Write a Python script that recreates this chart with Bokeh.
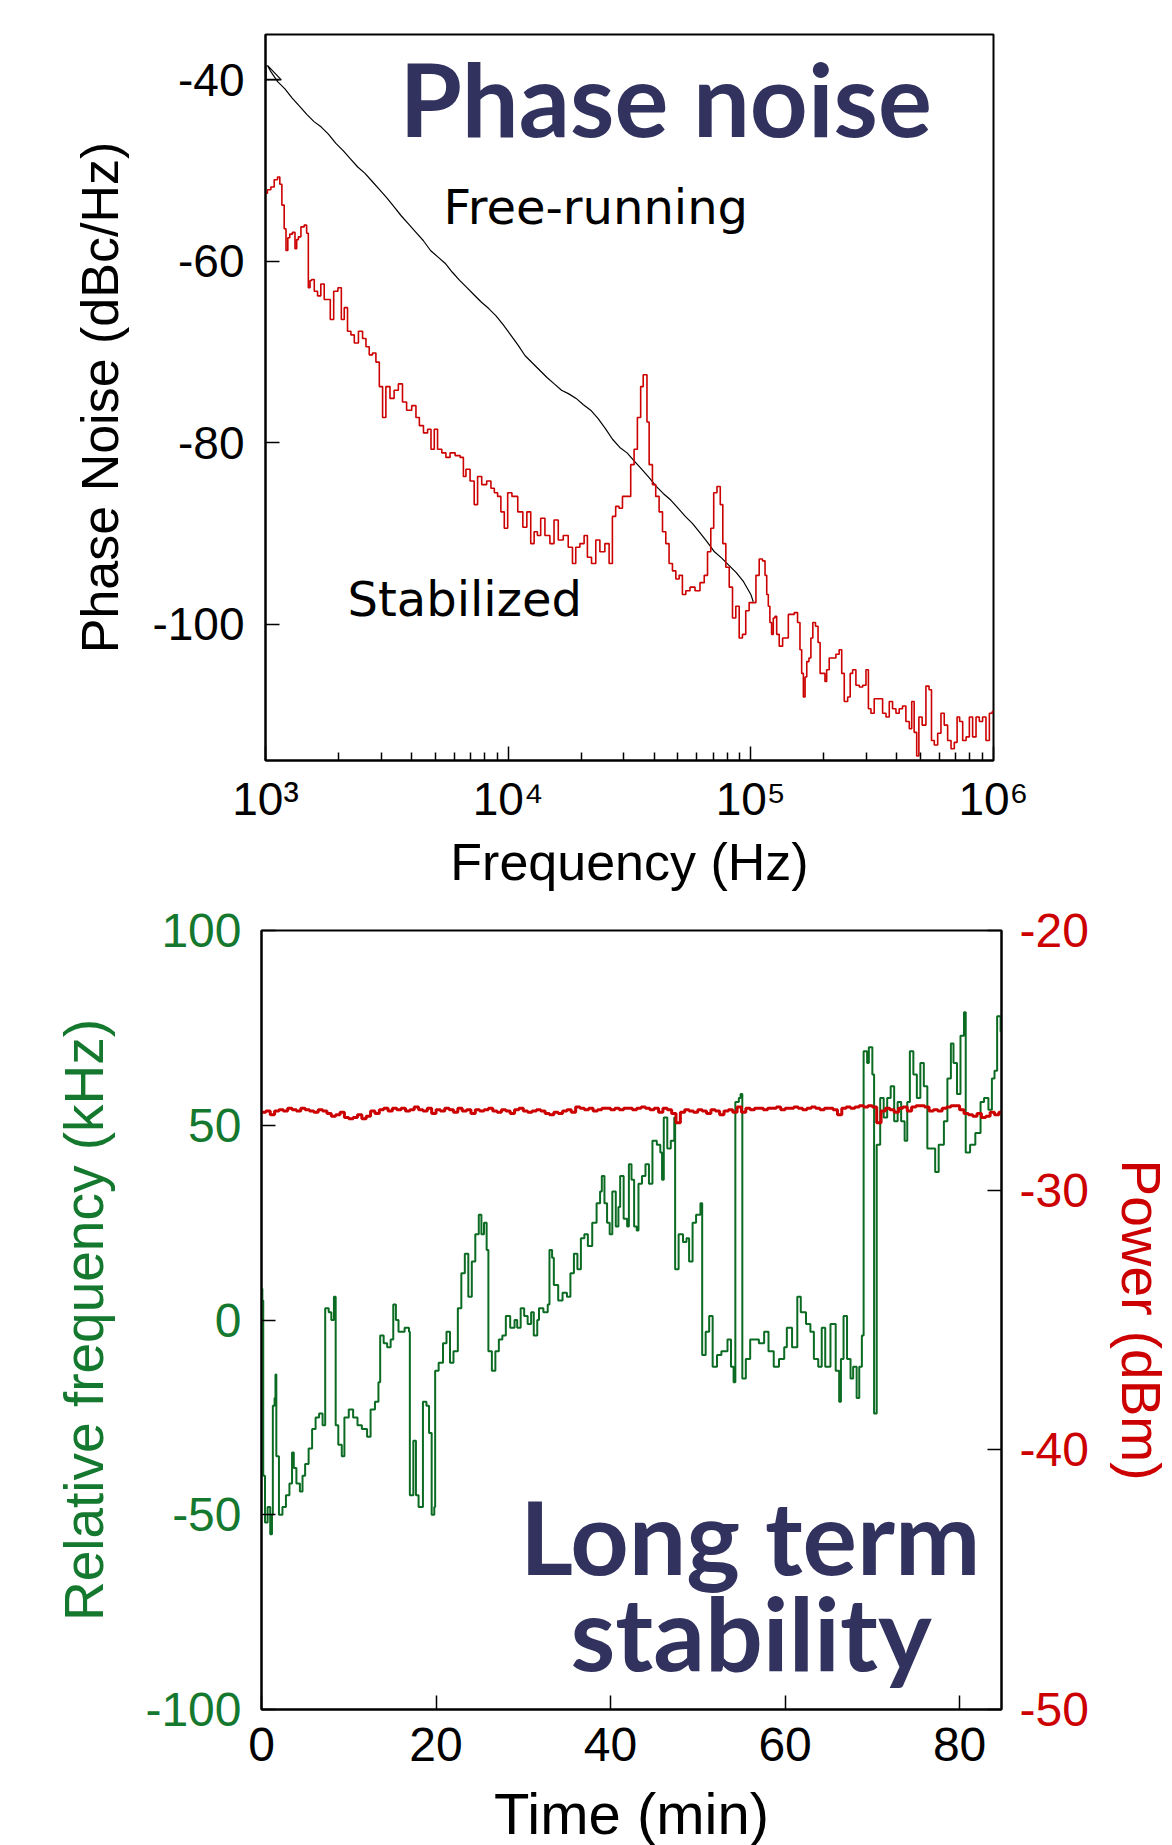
from bokeh.plotting import figure
from bokeh.models import Range1d, LinearAxis, FixedTicker, CustomJSTickFormatter, PrintfTickFormatter, Label
from bokeh.layouts import column
from bokeh.embed import file_html
from bokeh.resources import INLINE

# ---------------- Phase noise data (log10 of frequency in Hz, dBc/Hz) ----------------
free_logf = [3.002, 3.002, 3.065, 3.008, 3.02, 3.05, 3.08, 3.11, 3.14, 3.17, 3.20, 3.23, 3.26,
             3.29, 3.32, 3.35, 3.38, 3.41, 3.44, 3.47, 3.50, 3.53, 3.56, 3.59, 3.62, 3.65,
             3.68, 3.71, 3.74, 3.77, 3.80, 3.83, 3.86, 3.89, 3.92, 3.95, 3.98, 4.01, 4.04,
             4.07, 4.10, 4.13, 4.16, 4.19, 4.22, 4.25, 4.28, 4.31, 4.34, 4.37, 4.40, 4.43,
             4.46, 4.49, 4.52, 4.55, 4.58, 4.61, 4.64, 4.67, 4.70, 4.73, 4.76, 4.79, 4.82,
             4.85, 4.88, 4.91, 4.94, 4.97, 5.00, 5.01]
free_db = [-38.4, -40.0, -40.0, -38.4, -39.0, -40.2, -41.0, -42.0, -42.9, -43.8, -44.6, -45.2, -46.0,
           -47.0, -47.8, -48.7, -49.6, -50.3, -51.2, -52.1, -53.0, -54.0, -55.0, -55.9, -56.8, -57.7,
           -58.8, -59.5, -60.2, -61.2, -62.1, -62.9, -63.7, -64.5, -65.2, -66.0, -67.0, -68.1, -69.2,
           -70.4, -71.2, -72.0, -72.8, -73.5, -74.2, -74.6, -75.1, -75.8, -76.4, -77.3, -78.4, -79.6,
           -80.5, -81.1, -82.0, -82.9, -83.8, -84.8, -85.6, -86.3, -87.2, -88.1, -88.9, -89.9, -90.9,
           -92.0, -92.7, -93.5, -94.3, -95.3, -96.7, -97.5]

stab_logf = [3.001, 3.015, 3.029, 3.043, 3.056, 3.062, 3.073, 3.081, 3.088, 3.096, 3.104, 3.118,
             3.125, 3.132, 3.139, 3.153, 3.166, 3.173, 3.180, 3.187, 3.194, 3.208, 3.221, 3.235,
             3.249, 3.262, 3.272, 3.290, 3.307, 3.318, 3.331, 3.345, 3.359, 3.373, 3.393, 3.407,
             3.421, 3.434, 3.448, 3.462, 3.476, 3.489, 3.503, 3.523, 3.537, 3.558, 3.571, 3.592,
             3.613, 3.627, 3.641, 3.661, 3.675, 3.689, 3.702, 3.716, 3.737, 3.750, 3.771, 3.792,
             3.812, 3.819, 3.833, 3.853, 3.867, 3.881, 3.901, 3.922, 3.936, 3.950, 3.963, 3.977,
             3.991, 4.005, 4.026, 4.053, 4.068, 4.086, 4.100, 4.114, 4.127, 4.141, 4.162, 4.182,
             4.196, 4.217, 4.237, 4.258, 4.272, 4.285, 4.306, 4.320, 4.333, 4.354, 4.368, 4.388,
             4.409, 4.423, 4.436, 4.450, 4.464, 4.478, 4.498, 4.512, 4.526, 4.539, 4.553, 4.560,
             4.570, 4.574, 4.588, 4.601, 4.615, 4.629, 4.643, 4.656, 4.670, 4.684, 4.698, 4.711,
             4.725, 4.739, 4.760, 4.780, 4.801, 4.815, 4.828, 4.842, 4.852, 4.869, 4.879, 4.890,
             4.904, 4.918, 4.931, 4.945, 4.959, 4.972, 4.986, 5.000, 5.014, 5.028, 5.041, 5.055,
             5.062, 5.069, 5.075, 5.082, 5.089, 5.096, 5.103, 5.110, 5.124, 5.138, 5.151, 5.158,
             5.172, 5.186, 5.199, 5.206, 5.213, 5.220, 5.227, 5.234, 5.245, 5.250, 5.261, 5.272,
             5.282, 5.289, 5.302, 5.309, 5.316, 5.330, 5.344, 5.357, 5.371, 5.378, 5.392, 5.406,
             5.413, 5.426, 5.440, 5.454, 5.468, 5.481, 5.488, 5.502, 5.515, 5.536, 5.550, 5.564,
             5.577, 5.591, 5.605, 5.618, 5.632, 5.646, 5.660, 5.666, 5.680, 5.687, 5.698, 5.714,
             5.729, 5.740, 5.749, 5.763, 5.777, 5.790, 5.804, 5.818, 5.832, 5.845, 5.855, 5.866,
             5.880, 5.894, 5.907, 5.921, 5.935, 5.948, 5.962, 5.976, 5.990, 6.000]
stab_db = [-52.5, -52.1, -51.8, -51.0, -50.7, -51.5, -53.8, -56.4, -58.8, -57.4, -57.0, -56.8,
           -58.6, -57.6, -57.3, -56.2, -56.0, -56.9, -62.9, -62.1, -62.0, -63.3, -63.8, -62.5,
           -64.2, -64.2, -66.4, -63.3, -62.9, -66.4, -65.1, -67.7, -68.1, -69.0, -67.7, -68.5,
           -69.4, -70.3, -70.1, -71.1, -73.8, -77.2, -73.8, -75.1, -74.2, -73.5, -75.5, -76.4,
           -75.9, -77.2, -78.1, -78.9, -78.5, -80.7, -78.5, -80.7, -81.1, -81.6, -81.1, -81.4,
           -81.6, -83.7, -82.9, -84.2, -86.8, -83.7, -84.6, -84.2, -85.0, -85.5, -85.9, -87.6,
           -89.4, -85.5, -85.9, -87.6, -89.3, -87.6, -91.1, -89.8, -90.2, -88.3, -90.2, -91.1,
           -88.5, -90.7, -90.2, -91.5, -93.3, -91.5, -91.1, -90.2, -92.6, -93.3, -90.7, -92.0,
           -91.1, -93.3, -88.1, -87.0, -87.2, -85.9, -85.9, -82.4, -80.7, -77.2, -73.8, -72.5,
           -72.5, -77.7, -82.4, -84.6, -85.9, -87.6, -89.8, -91.1, -93.3, -94.1, -95.0, -94.6,
           -96.7, -96.3, -95.9, -96.3, -95.4, -94.6, -92.0, -89.4, -85.5, -84.8, -86.8, -91.1,
           -93.7, -95.9, -99.3, -98.0, -101.5, -101.1, -98.5, -97.6, -97.6, -94.6, -92.8, -93.0,
           -94.6, -96.7, -98.0, -99.8, -101.1, -99.3, -99.1, -101.1, -102.4, -101.5, -101.5, -98.9,
           -98.9, -98.7, -99.8, -102.8, -105.4, -108.0, -105.8, -104.1, -103.7, -101.5, -99.8, -100.2,
           -102.0, -105.4, -105.4, -106.3, -105.0, -103.7, -103.7, -103.3, -102.8, -105.4, -108.5, -108.0,
           -105.4, -105.0, -106.7, -106.9, -106.7, -105.0, -109.3, -109.8, -108.2, -108.2, -109.8, -110.2,
           -108.5, -109.3, -109.8, -109.3, -109.0, -110.7, -111.5, -108.5, -111.9, -114.5, -110.2, -111.1,
           -106.8, -107.2, -112.8, -113.3, -112.0, -109.8, -111.1, -112.8, -113.7, -113.0, -110.2, -110.7,
           -112.8, -112.4, -110.2, -112.4, -110.2, -110.7, -110.2, -112.8, -109.8, -109.6]

freq_ticks = [1e3, 1e4, 1e5, 1e6]
pn_ticks = [-100, -80, -60, -40]

# ---------------- Long term stability data ----------------
drift_t = [0.0, 0.1, 0.2, 0.4, 0.7, 1.0, 1.2, 1.3, 1.5, 1.6, 1.7, 2.0, 2.4, 2.8, 3.2, 3.5, 3.7, 4.0,
           4.4, 4.7, 5.0, 5.4, 5.8, 6.2, 6.6, 7.0, 7.3, 7.7, 8.0, 8.3, 8.5, 8.8, 9.2, 9.5, 10.0,
           10.5, 11.0, 11.5, 12.1, 12.5, 13.0, 13.4, 13.6, 14.0, 14.4, 14.8, 15.1, 15.4, 15.7,
           16.0, 16.4, 16.9, 17.0, 17.4, 17.7, 18.0, 18.5, 18.9, 19.2, 19.5, 19.8, 19.9, 20.3,
           20.8, 21.2, 21.6, 22.0, 22.5, 22.9, 23.3, 23.7, 24.1, 24.5, 24.9, 25.2, 25.5, 25.8,
           26.0, 26.4, 26.8, 27.2, 27.6, 28.0, 28.5, 29.0, 29.3, 29.7, 30.1, 30.5, 30.9, 31.2,
           31.6, 31.8, 32.3, 32.8, 33.0, 33.3, 33.5, 34.0, 34.5, 35.0, 35.4, 35.8, 36.2, 36.6,
           37.0, 37.4, 37.9, 38.4, 38.8, 39.0, 39.3, 39.6, 39.9, 40.2, 40.6, 40.9, 41.1, 41.5,
           41.9, 42.1, 42.4, 42.7, 43.0, 43.2, 43.6, 44.0, 44.4, 44.8, 45.3, 45.7, 45.9, 46.1,
           46.5, 46.9, 47.3, 47.4, 47.8, 48.3, 48.7, 49.0, 49.4, 49.8, 50.3, 50.5, 50.9, 51.3,
           51.7, 52.2, 52.7, 53.4, 53.8, 54.1, 54.3, 54.7, 54.9, 55.1, 55.5, 56.0, 56.6, 57.0,
           57.6, 58.1, 58.7, 59.3, 59.9, 60.2, 60.8, 61.4, 61.8, 62.4, 62.9, 63.3, 63.8, 64.2,
           64.6, 65.2, 65.8, 66.2, 66.4, 66.7, 67.1, 67.5, 67.8, 68.2, 68.5, 68.8, 69.0, 69.4,
           69.6, 70.0, 70.2, 70.5, 70.9, 71.3, 71.7, 72.1, 72.5, 72.9, 73.3, 73.7, 74.0, 74.3,
           74.7, 75.1, 75.5, 75.9, 76.3, 76.7, 77.2, 77.6, 78.2, 78.6, 79.0, 79.3, 79.7, 80.1,
           80.5, 80.7, 81.2, 81.8, 82.4, 82.8, 83.3, 83.7, 84.0, 84.3, 84.7]
drift_khz = [8, 5, -40, -52, -48, -55, -50, -22, -20, -14, -35, -50, -48, -45, -42, -34, -38, -42,
             -44, -40, -37, -33, -28, -25, -24, -27, 3, 2, 0, 6, -27, -32, -35, -25, -23,
             -25, -27, -28, -30, -23, -21, -16, -4, -6, -7, -5, 4, 0, -3,
             -3, -2, -3, -45, -31, -45, -48, -21, -22, -29, -50, -48, -13, -11,
             -6, -3, -11, -8, 3, 12, 17, 6, 15, 22, 27, 22, 25, 18,
             -8, -13, -8, -5, -4, 1, -2, 0, -2, 3, 1, -1, 2, -4,
             0, 3, 2, 4, 18, 16, 9, 5, 7, 6, 12, 17, 13, 21,
             22, 19, 25, 30, 33, 37, 30, 25, 22, 33, 24, 29, 37, 26,
             24, 40, 36, 24, 23, 35, 37, 40, 35, 46, 45, 43, 36, 52,
             44, 46, 52, 13, 22, 20, 21, 15, 25, 27, 30, -9, -3, 1,
             -12, -9, -8, -5, -12, -16, 56, 57, 58, -15, -10, -5, -5, -6,
             -3, -8, -12, -10, -7, -2, -7, 6, 2, -1, -3, -10, -12, -2,
             -12, -1, -13, -21, -10, 1, -10, -15, -12, -20, -12, -4, 69, 66,
             70, 63, -24, 45, 57, 52, 57, 60, 51, 56, 51, 46, 56, 69,
             63, 57, 66, 60, 44, 44, 38, 45, 51, 62, 71, 66, 58, 73,
             79, 43, 45, 48, 56, 57, 54, 62, 64, 78, 74]

power_dbm = [-27.0, -26.95, -27.1, -26.95, -26.9, -26.95, -26.85, -26.9, -26.95, -26.85, -26.9,
             -26.95, -27.0, -26.9, -26.95, -27.05, -27.15, -27.1, -27.0, -27.2, -27.25,
             -27.2, -27.1, -27.25, -27.15, -26.95, -27.05, -26.9, -26.85, -26.95, -26.85,
             -26.9, -26.85, -26.95, -26.9, -26.8, -26.9, -26.95, -26.85, -27.05, -26.9,
             -26.95, -26.85, -26.9, -27.0, -26.85, -26.95, -26.9, -27.05, -26.9, -26.95,
             -26.9, -26.85, -26.95, -27.0, -26.9, -26.95, -27.05, -26.9, -26.85, -26.95,
             -27.0, -26.95, -26.9, -26.95, -27.05, -27.1, -27.0, -27.05, -26.95, -26.9,
             -27.0, -26.8, -26.85, -26.9, -26.85, -26.95, -26.9, -26.85, -26.85, -26.9,
             -26.85, -26.9, -26.85, -26.85, -26.9, -26.85, -26.8, -26.85, -26.9, -26.85,
             -27.0, -26.85, -26.9, -27.05, -27.4, -27.0, -26.9, -26.95, -27.0, -26.9,
             -26.95, -27.05, -26.9, -26.95, -27.1, -26.95, -26.9, -27.0, -26.8, -27.0,
             -26.85, -26.9, -26.85, -26.85, -26.9, -26.85, -26.85, -26.8, -26.9, -26.85,
             -26.85, -26.8, -26.85, -26.9, -26.85, -26.8, -26.85, -26.9, -26.85, -26.85,
             -26.9, -27.1, -26.85, -26.8, -26.85, -26.8, -26.75, -26.8, -26.75, -26.8,
             -27.4, -26.95, -26.85, -26.9, -27.0, -26.85, -26.8, -26.95, -26.8, -26.75,
             -26.75, -26.8, -26.95, -26.9, -26.95, -26.85, -26.8, -26.75, -26.75, -26.9,
             -27.05, -27.1, -27.15, -27.05, -27.2, -27.15, -27.0, -27.1, -27.0, -27.05]
power_t = [0.5 * i for i in range(len(power_dbm))]

time_ticks = [0, 20, 40, 60, 80]
khz_ticks = [-100, -50, 0, 50, 100]
dbm_ticks = [-50, -40, -30, -20]

TICK_FONT = "Liberation Sans"
NAVY = "#32325f"
RED = "#cc0000"
GREEN = "#0b6b22"
GREEN_TXT = "#14782e"

# ---------------- Top: phase noise ----------------
p1 = figure(x_axis_type="log", x_range=Range1d(1e3, 1e6), y_range=Range1d(-115, -35),
            frame_width=728, frame_height=726,
            min_border_left=265, min_border_right=179, min_border_top=34, min_border_bottom=140,
            output_backend="svg", toolbar_location=None)
p1.frame_align = False
p1.grid.visible = False
p1.outline_line_color = "black"
p1.outline_line_width = 2
p1.background_fill_color = "white"
p1.border_fill_color = "white"

p1.xaxis.ticker = FixedTicker(ticks=freq_ticks,
                              minor_ticks=[m * 10 ** d for d in (3, 4, 5) for m in range(2, 10)])
p1.xaxis.formatter = CustomJSTickFormatter(code="""
const e = Math.round(Math.log10(tick));
const s = {3: "\u00b3", 4: "\u2074", 5: "\u2075", 6: "\u2076"};
return "10" + s[e];
""")
p1.yaxis.ticker = FixedTicker(ticks=pn_ticks)
p1.yaxis.formatter = PrintfTickFormatter(format="%d")
for ax in (p1.xaxis[0], p1.yaxis[0]):
    ax.major_tick_in = 14
    ax.major_tick_out = 0
    ax.minor_tick_in = 8
    ax.minor_tick_out = 0
    ax.axis_line_color = "black"
    ax.axis_line_width = 2
    ax.major_tick_line_width = 1.5
    ax.minor_tick_line_width = 1.5
    ax.major_label_text_font = TICK_FONT
    ax.major_label_text_font_size = "46px"
    ax.major_label_text_color = "black"
    ax.axis_label_text_font = TICK_FONT
    ax.axis_label_text_font_style = "normal"
    ax.axis_label_text_color = "black"
p1.yaxis.minor_tick_in = 0
p1.xaxis.major_label_standoff = 12
p1.yaxis.major_label_standoff = 21
p1.xaxis.axis_label = "Frequency (Hz)"
p1.xaxis.axis_label_text_font_size = "52px"
p1.xaxis.axis_label_standoff = 5
p1.yaxis.axis_label = "Phase Noise (dBc/Hz)"
p1.yaxis.axis_label_text_font_size = "52px"
p1.yaxis.axis_label_standoff = 20

p1.line([10 ** v for v in free_logf], free_db, line_color="black", line_width=1.2)
p1.step([10 ** v for v in stab_logf], stab_db, mode="center", line_color=RED, line_width=1.6)

# note: font sizes like "100px" collide with numeric font weights, so avoid x00 values
p1.add_layout(Label(x=10 ** 4.649, y=-42.0, text="Phase noise", text_font="Lato",
                    text_font_style="bold", text_font_size="101px", text_color=NAVY,
                    text_align="center", text_baseline="alphabetic"))
p1.add_layout(Label(x=10 ** 3.734, y=-54.06, text="Free-running", text_font="DejaVu Sans",
                    text_font_size="48px", text_color="black",
                    text_align="left", text_baseline="alphabetic"))
p1.add_layout(Label(x=10 ** 3.338, y=-97.2, text="Stabilized", text_font="DejaVu Sans",
                    text_font_size="48px", text_color="black",
                    text_align="left", text_baseline="alphabetic"))

# ---------------- Bottom: long term stability ----------------
p2 = figure(x_range=Range1d(0, 84.8), y_range=Range1d(-100, 100),
            frame_width=740, frame_height=779,
            min_border_left=261, min_border_right=171, min_border_top=30, min_border_bottom=134,
            output_backend="svg", toolbar_location=None)
p2.frame_align = False
p2.extra_y_ranges = {"power": Range1d(-50, -20)}
p2.grid.visible = False
p2.outline_line_color = "black"
p2.outline_line_width = 2
p2.background_fill_color = "white"
p2.border_fill_color = "white"

right_ax = LinearAxis(y_range_name="power")
p2.add_layout(right_ax, "right")

p2.xaxis.ticker = FixedTicker(ticks=time_ticks)
p2.yaxis[0].ticker = FixedTicker(ticks=khz_ticks)
right_ax.ticker = FixedTicker(ticks=dbm_ticks)

for ax in (p2.xaxis[0], p2.yaxis[0], right_ax):
    ax.formatter = PrintfTickFormatter(format="%d")
    ax.major_tick_in = 14
    ax.major_tick_out = 0
    ax.minor_tick_in = 0
    ax.minor_tick_out = 0
    ax.axis_line_color = "black"
    ax.axis_line_width = 2
    ax.major_tick_line_width = 1.5
    ax.major_label_text_font = TICK_FONT
    ax.major_label_text_font_size = "48px"
    ax.axis_label_text_font = TICK_FONT
    ax.axis_label_text_font_style = "normal"
    ax.axis_label_text_font_size = "55px"

p2.xaxis.major_label_text_color = "black"
p2.xaxis.major_label_standoff = 18
p2.xaxis.axis_label = "Time (min)"
p2.xaxis.axis_label_text_color = "black"
p2.xaxis.axis_label_text_font_size = "58px"
p2.xaxis.axis_label_standoff = 17

left_ax = p2.yaxis[0]
left_ax.major_label_text_color = GREEN_TXT
left_ax.major_label_standoff = 20
left_ax.axis_label = "Relative frequency (kHz)"
left_ax.axis_label_text_color = GREEN_TXT
left_ax.axis_label_standoff = 27

right_ax.major_label_text_color = RED
right_ax.major_label_standoff = 18
right_ax.axis_label = "Power (dBm)"
right_ax.axis_label_text_color = RED
right_ax.axis_label_standoff = 18

p2.step(drift_t, drift_khz, mode="after", line_color=GREEN, line_width=2)
p2.step(power_t, power_dbm, mode="after", line_color=RED, line_width=3, y_range_name="power")

p2.add_layout(Label(x=56.0, y=-55.3, text="Long term", text_font="Lato",
                    text_font_style="bold", text_font_size="102px", text_color=NAVY,
                    text_align="center", text_baseline="alphabetic"))
p2.add_layout(Label(x=56.1, y=-80.0, text="stability", text_font="Lato",
                    text_font_style="bold", text_font_size="102px", text_color=NAVY,
                    text_align="center", text_baseline="alphabetic"))

layout = column(p1, p2, spacing=0)
with open("out.html", "w", encoding="utf-8") as f:
    f.write(file_html(layout, INLINE))
